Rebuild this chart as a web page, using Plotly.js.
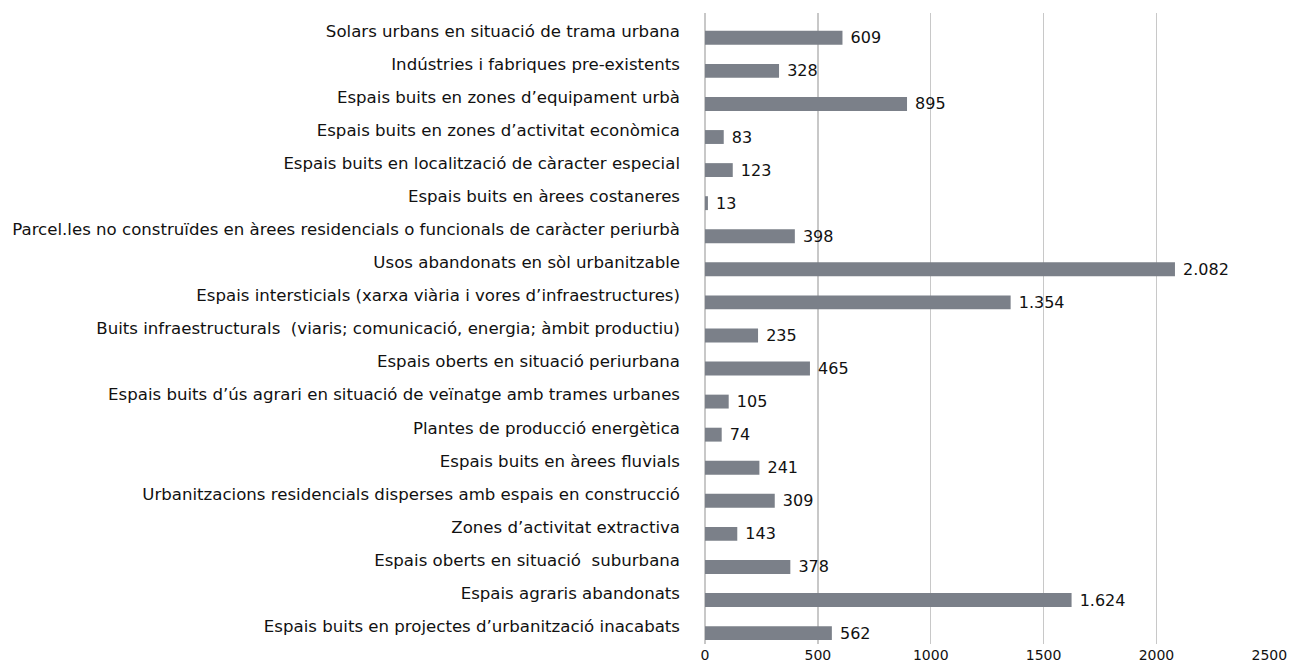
<!DOCTYPE html>
<html>
<head>
<meta charset="utf-8">
<script src="https://cdn.plot.ly/plotly-3.0.1.min.js"></script>
<style>html,body{margin:0;padding:0;background:#fff;}#chart{width:1290px;height:666px;}</style>
</head>
<body>
<div id="chart"></div>
<script>
const categories = [
  "Solars urbans en situació de trama urbana",
  "Indústries i fabriques pre-existents",
  "Espais buits en zones d’equipament urbà",
  "Espais buits en zones d’activitat econòmica",
  "Espais buits en localització de càracter especial",
  "Espais buits en àrees costaneres",
  "Parcel.les no construïdes en àrees residencials o funcionals de caràcter periurbà",
  "Usos abandonats en sòl urbanitzable",
  "Espais intersticials (xarxa viària i vores d’infraestructures)",
  "Buits infraestructurals \u00a0(viaris; comunicació, energia; àmbit productiu)",
  "Espais oberts en situació periurbana",
  "Espais buits d’ús agrari en situació de veïnatge amb trames urbanes",
  "Plantes de producció energètica",
  "Espais buits en àrees fluvials",
  "Urbanitzacions residencials disperses amb espais en construcció",
  "Zones d’activitat extractiva",
  "Espais oberts en situació \u00a0suburbana",
  "Espais agraris abandonats",
  "Espais buits en projectes d’urbanització inacabats"
];
const values = [609, 328, 895, 83, 123, 13, 398, 2082, 1354, 235, 465, 105, 74, 241, 309, 143, 378, 1624, 562];
const xTicks = [0, 500, 1000, 1500, 2000, 2500];

const fmt = v => String(v).replace(/\B(?=(\d{3})+(?!\d))/g, ".");
const labels = values.map(v => "\u00a0" + fmt(v));

const FONT = "DejaVu Sans, Verdana, sans-serif";

const trace = {
  type: "bar",
  orientation: "h",
  y: categories,
  x: values,
  width: 0.42,
  offset: 0,
  marker: {color: "#7b8089"},
  text: labels,
  textposition: "outside",
  constraintext: "none",
  cliponaxis: false,
  textfont: {family: FONT, size: 16, color: "#111"},
  hoverinfo: "x+y"
};

const layout = {
  width: 1290,
  height: 666,
  margin: {l: 705, r: 20, t: 13, b: 22},
  paper_bgcolor: "#fff",
  plot_bgcolor: "#fff",
  showlegend: false,
  font: {family: FONT, size: 16, color: "#111"},
  xaxis: {
    range: [0, 2503],
    tickvals: xTicks,
    ticktext: xTicks.map(String),
    showgrid: true,
    gridcolor: "#c8c8c8",
    gridwidth: 1.5,
    zeroline: true,
    zerolinecolor: "#c8c8c8",
    zerolinewidth: 2,
    showline: false,
    ticks: "",
    ticklabelstandoff: 1,
    tickfont: {family: FONT, size: 14, color: "#111"},
    fixedrange: true
  },
  yaxis: {
    type: "category",
    range: [18.54, -0.54],
    ticks: "",
    showgrid: false,
    zeroline: false,
    showline: false,
    ticklabelstandoff: 24,
    tickfont: {family: FONT, size: 16.6, color: "#111"},
    automargin: false,
    fixedrange: true
  }
};

Plotly.newPlot("chart", [trace], layout, {displayModeBar: false, staticPlot: true});
</script>
</body>
</html>
